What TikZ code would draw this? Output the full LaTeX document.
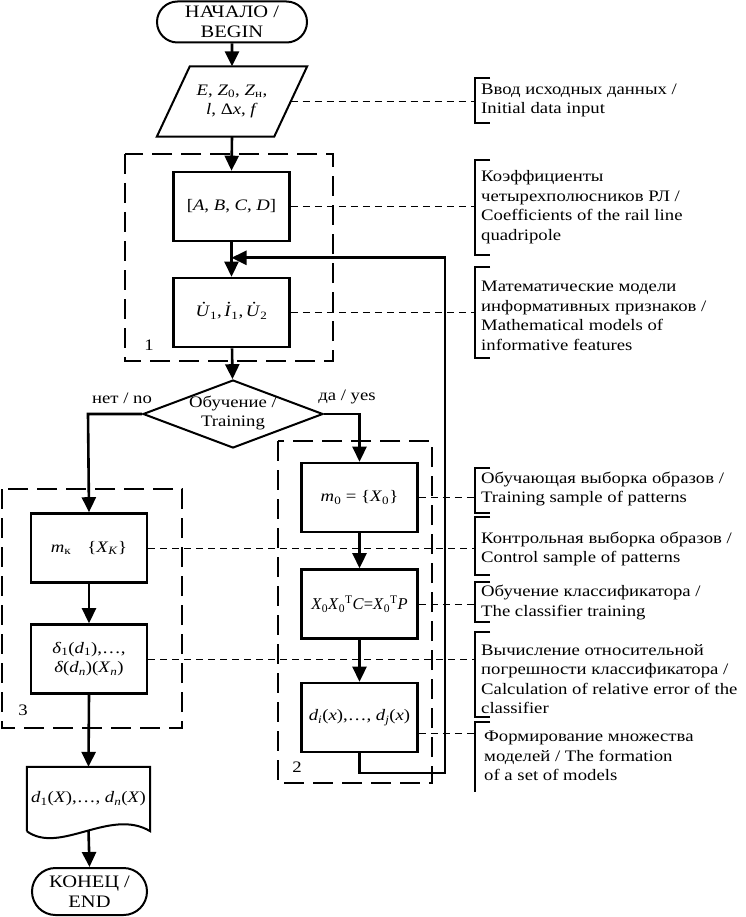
\documentclass[tikz,border=0pt]{standalone}
\usepackage{fontspec}
\setmainfont{Liberation Serif}[FakeStretch=1.17]
\newfontfamily\plainserif{Liberation Serif}
\usetikzlibrary{arrows.meta,shapes.geometric,shapes.misc,calc}
\newcommand{\itx}[1]{\textit{#1}}
\newcommand{\sbs}[1]{\textsubscript{#1}}
\newcommand{\dotacc}[1]{\ooalign{\itx{#1}\cr\hidewidth\kern0.14em\raisebox{0.5em}{·}\hidewidth\cr}}
\begin{document}
\begin{tikzpicture}[x=1pt,y=-1pt, font=\fontsize{16}{19.5}\selectfont,
 proc/.style={draw, line width=2.6pt, minimum width=116pt, minimum height=69pt, align=center, inner sep=1pt},
 term/.style={draw, line width=2pt, rounded rectangle, align=center, inner sep=0pt, font=\fontsize{17.5}{19.5}\selectfont},
 flow/.style={line width=2.6pt, -{Triangle[length=15pt,width=14pt]}},
 grp/.style={line width=2.6pt, dash pattern=on 20pt off 9pt},
 annot/.style={line width=1pt, dash pattern=on 7pt off 5pt},
 brk/.style={line width=1.3pt},
 notetext/.style={anchor=west, align=left, inner sep=0pt}
]
\useasboundingbox (0,0) rectangle (745,917);

% main flow nodes
\node[term, minimum width=150pt, minimum height=41pt] (start) at (232,22) {НАЧАЛО /\\BEGIN};
\node[minimum width=150pt, minimum height=70pt, inner sep=0pt, align=center] (in) at (232,101.5)
  {\itx{E}, \itx{Z}\sbs{0}, \itx{Z}\sbs{н},\\ \itx{l}, Δ\itx{x}, \itx{f}};
\draw[line width=2pt] ($(in.north west)+(33,0)$) -- (in.north east) -- ($(in.south east)+(-33,0)$) -- (in.south west) -- cycle;

\node[proc] (abcd) at (231.5,206.5) {[\itx{A}, \itx{B}, \itx{C}, \itx{D}]};
\node[proc] (u) at (231.5,312.5) {\dotacc{U}\sbs{1},\,\dotacc{I}\sbs{1},\,\dotacc{U}\sbs{2}};

\node[diamond, draw, line width=2pt, aspect=2.65, inner sep=0pt, minimum width=180pt, minimum height=68pt] (train) at (233,414) {};
\node[align=center, inner sep=0pt] (traintext) at (233,413) {Обучение /\\Training};
\node (no) at (122,398) {нет / no};
\node (yes) at (347,397) {да / yes};

\node[proc] (mk) at (89,548) {\itx{m}\sbs{к}\quad\{\itx{X}\sbs{\itx{K}}\}};
\node[proc] (delta) at (89,659) {\itx{δ}\sbs{1}(\itx{d}\sbs{1}),\ldots,\\ \itx{δ}(\itx{d}\sbs{\itx{n}})(\itx{X}\sbs{\itx{n}})};

\node[proc] (m0) at (359.5,497.5) {\itx{m}\sbs{0} = \{\itx{X}\sbs{0}\}};
\node[proc, font=\plainserif\fontsize{16.5}{19.5}\selectfont] (x0) at (359.5,604) {\itx{X}\sbs{0}\itx{X}\sbs{0}\textsuperscript{T}\itx{C}=\itx{X}\sbs{0}\textsuperscript{T}\itx{P}};
\node[proc] (di) at (359.5,717.5) {\itx{d}\sbs{\itx{i}}(\itx{x}),\ldots, \itx{d}\sbs{\itx{j}}(\itx{x})};

\node[minimum width=123pt, minimum height=64pt, inner sep=0pt, align=center] (doc) at (88.5,799)
  {\itx{d}\sbs{1}(\itx{X}),\ldots, \itx{d}\sbs{\itx{n}}(\itx{X})};
\draw[line width=2pt] (doc.south west) -- (doc.north west) -- (doc.north east) -- (doc.south east)
  .. controls ($(doc.south east)+(-40,-24)$) and ($(doc.south west)+(33,24)$) .. (doc.south west);
\coordinate (docb) at ($(doc.south)+(0,-1)$);

\node[term, minimum width=115pt, minimum height=47pt] (end) at (89.5,891.5) {КОНЕЦ /\\END};

% group frames
\draw[grp] (125,154) rectangle (333,361);
\draw[grp] (278,441) rectangle (432,783);
\draw[grp] (2,489) rectangle (182,728);
\node (g1) at (149,345) {1};
\node (g2) at (297,767) {2};
\node (g3) at (23,710) {3};

% connectors
\draw[flow] (start) -- (in);
\draw[flow] (in.south) -- (abcd.north);
\draw[flow] (abcd) -- (u);
\draw[flow] (u) -- (train);
\coordinate (lb) at (88,414);
\coordinate (rb) at (359.5,414);
\draw[flow] (train.west) -- (lb) -- (mk.north);
\draw[flow] (train.east) -- (rb) -- (m0.north);
\draw[flow] (mk) -- (delta);
\draw[flow] (delta.south) -- (doc.north);
\draw[flow] (docb) -- (end.north);
\draw[flow] (m0) -- (x0);
\draw[flow] (x0) -- (di);
\coordinate (merge) at ($(abcd.south)!0.45!(u.north)$);
\coordinate (fbB) at (445,773);
\draw[flow] (di.south) |- (fbB) |- (merge);

% annotations
\coordinate (brx) at (475,0);
\coordinate (inR) at ($(in.east)+(-16.5,0)$);
\coordinate (diR) at ($(di.east)+(0,15.5)$);
\draw[annot] (inR) -- (inR -| brx);
\draw[annot] (abcd.east) -- (abcd.east -| brx);
\draw[annot] (u.east) -- (u.east -| brx);
\draw[annot] (m0.east) -- (m0.east -| brx);
\draw[annot] (mk.east) -- (mk.east -| brx);
\draw[annot] (x0.east) -- (x0.east -| brx);
\draw[annot] (delta.east) -- (delta.east -| brx);
\draw[annot] (diR) -- (diR -| brx);

\draw[brk] (490,78) -- (475,78) -- (475,123) -- (490,123);
\draw[brk] (490,160) -- (475,160) -- (475,255) -- (490,255);
\draw[brk] (490,267) -- (475,267) -- (475,358) -- (490,358);
\draw[brk] (490,468) -- (475,468) -- (475,513) -- (490,513);
\draw[brk] (490,517) -- (475,517) -- (475,575) -- (490,575);
\draw[brk] (490,582) -- (475,582) -- (475,622) -- (490,622);
\draw[brk] (490,632) -- (475,632) -- (475,717) -- (490,717);
\draw[brk] (490,722) -- (475,722) -- (475,792);

\node[notetext] (n1) at (481,100.5) {Ввод исходных данных /\\Initial data input};
\node[notetext] (n2) at (481,207) {Коэффициенты\\четырехполюсников РЛ /\\Coefficients of the rail line\\quadripole};
\node[notetext] (n3) at (481,316) {Математические модели\\информативных признаков /\\Mathematical models of\\informative features};
\node[notetext] (n4) at (481,489) {Обучающая выборка образов /\\Training sample of patterns};
\node[notetext] (n5) at (481,549) {Контрольная выборка образов /\\Control sample of patterns};
\node[notetext] (n6) at (481,602.5) {Обучение классификатора /\\The classifier training};
\node[notetext] (n7) at (481,679) {Вычисление относительной\\погрешности классификатора /\\Calculation of relative error of the\\classifier};
\node[notetext] (n8) at (484,756) {Формирование множества\\моделей / The formation\\of a set of models};
\end{tikzpicture}
\end{document}
